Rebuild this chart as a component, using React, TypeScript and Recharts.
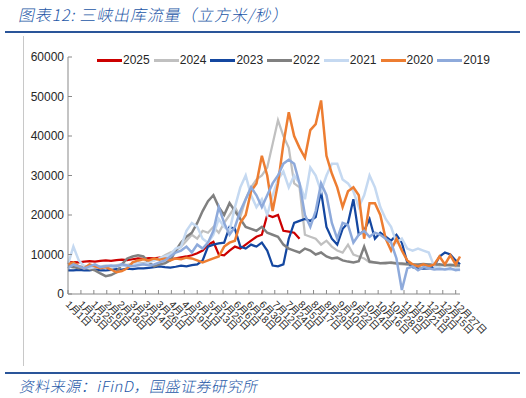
import { LineChart, Line, XAxis, YAxis } from "recharts";

const days = [
  1, 6, 11, 16, 21, 26, 31, 36, 41, 46, 51, 56, 61, 66, 71, 76, 81, 86, 91, 96,
  101, 106, 111, 116, 121, 126, 131, 136, 141, 146, 151, 156, 161, 166, 171, 176, 181, 186, 191, 196,
  201, 206, 211, 216, 221, 226, 231, 236, 241, 246, 251, 256, 261, 266, 271, 276, 281, 286, 291, 296,
  301, 306, 311, 316, 321, 326, 331, 336, 341, 346, 351, 356, 361, 365,
];

const tickDays = [
  1, 13, 25, 37, 49, 61, 73, 85, 97, 109, 121, 133, 145, 157, 169, 181, 193, 205, 217, 229,
  241, 253, 265, 277, 289, 301, 313, 325, 337, 349, 361,
];

const tickLabels = [
  "1月1日", "1月13日", "1月25日", "2月6日", "2月18日", "3月2日", "3月14日", "3月26日",
  "4月7日", "4月19日", "5月1日", "5月13日", "5月25日", "6月6日", "6月18日", "6月30日",
  "7月12日", "7月24日", "8月5日", "8月17日", "8月29日", "9月10日", "9月22日", "10月4日",
  "10月16日", "10月28日", "11月9日", "11月21日", "12月3日", "12月15日", "12月27日",
];

const yTicks = [0, 10000, 20000, 30000, 40000, 50000, 60000];

// 2025 only runs to early August
const s2025 = [
  8000, 8100, 8000, 8200, 8300, 8200, 8400, 8500, 8400, 8600, 8700, 8600, 8800, 9000, 8900, 9100,
  9000, 9200, 9000, 8800, 9000, 9300, 9500, 9800, 10300, 11000, 12500, 13200, 10000, 9800, 11000,
  12000, 11500, 12500, 13500, 14500, 15000, 20000, 19500, 20000, 16000, 15800, 15500, 14000,
];
const s2024 = [
  7500, 7200, 7000, 7100, 7000, 6800, 7000, 7200, 7000, 7300, 7500, 7400, 7600, 8000, 7800, 8200,
  8500, 9000, 9800, 10500, 11000, 12000, 13500, 15000, 14000, 16000, 15500, 17000, 15500, 18000,
  20000, 22000, 19500, 24000, 27000, 29000, 30000, 32000, 38000, 44000, 40000, 37000, 28000, 27000,
  15000, 14500, 14000, 12500, 13500, 12000, 11000, 10500, 12500, 10000, 9500, 9000, 8000, 8000,
  7800, 8000, 7800, 7600, 7500, 7400, 7500, 7400, 7300, 7500, 7400, 7200, 7300, 7200, 7000, 7000,
];
const s2023 = [
  6000, 6000, 6100, 6000, 6000, 6200, 6000, 6000, 6100, 6300, 6200, 6400, 6300, 6500, 6500, 6600,
  6800, 7000, 6800, 6700, 6900, 7200, 7000, 7300, 7500, 8500, 12000, 12500, 12800, 13000, 17000,
  16500, 12000, 11500, 12500, 12000, 13000, 11000, 7200, 7000, 7500, 14000, 18000, 18500, 19000,
  18500, 19500, 26000, 17000, 14000, 12500, 16500, 18000, 24000, 15000, 16000, 19000, 14000, 15500,
  14500, 13500, 15000, 13000, 8000, 6800, 6500, 6400, 6500, 7000, 9500, 10500, 10000, 8500, 7500,
];
const s2022 = [
  7000, 6800, 6500, 6800, 6300, 6000, 5200, 4500, 4800, 5500, 7500, 9000, 9500, 9800, 9500, 8000,
  7000, 7500, 7800, 8500, 11000, 13000, 14500, 15500, 18000, 21000, 23500, 25000, 22000, 20000,
  23000, 21000, 19000, 17000, 16500, 16000, 17000, 15500, 15000, 14500, 12500, 11500, 11000, 10500,
  11500, 11000, 10000, 10500, 9500, 9000, 9200, 8500, 8200, 8000, 8300, 12000, 8200, 8000, 7800,
  7800, 8000, 7800, 7700, 7600, 7500, 7500, 7600, 7500, 7400, 7500, 7300, 7400, 7300, 7200,
];
const s2021 = [
  7500, 12000, 8500, 7000, 6500, 6800, 7000, 6500, 6800, 7000, 7200, 7000, 7500, 7800, 7500, 8000,
  8500, 9000, 9500, 10000, 11500, 12000, 16000, 18000, 17000, 14000, 13000, 15000, 19000, 17000,
  16000, 22000, 27000, 30000, 25000, 22000, 24000, 20000, 25000, 29000, 31000, 27000, 30000, 28000,
  24000, 32000, 30000, 26000, 30000, 33000, 33000, 29000, 28000, 26000, 22000, 25000, 30000, 27000,
  22000, 19000, 17000, 13000, 14000, 11500, 11000, 11500, 11000, 10500, 7000, 6500, 6300, 6200, 6300, 6000,
];
const s2020 = [
  7500, 8000, 7000, 6500, 7500, 7000, 6500, 6800, 6200, 5500, 5800, 6500, 8000, 8500, 8800, 8500,
  9000, 8700, 9000, 8500, 9000, 8800, 9200, 9000, 8500, 8000, 8500, 9000, 9500, 12000, 13000, 13500,
  18000, 20000, 26000, 28000, 35000, 30000, 21000, 28000, 38000, 46000, 40000, 37000, 34500, 41500,
  43000, 49000, 35000, 30500, 27000, 22000, 26000, 27000, 25000, 14000, 23000, 23000, 20000, 14000,
  11000, 14000, 11000, 8500, 7500, 7000, 7500, 7000, 7500, 9500, 7500, 9800, 7500, 9500,
];
const s2019 = [
  6500, 7500, 7000, 6500, 7000, 7500, 6800, 7000, 7200, 7000, 7500, 7200, 7000, 7300, 7500, 7200,
  7500, 8000, 8500, 9500, 10500, 11000, 12000, 10500, 12500, 11500, 13000, 16000, 22000, 18000,
  15000, 17000, 21000, 24000, 27000, 25000, 22000, 25000, 28000, 30000, 33000, 34000, 33000, 28000,
  20000, 17000, 21000, 28000, 25000, 18000, 14000, 18000, 17500, 13000, 15000, 16000, 14500, 15500,
  15000, 14000, 13000, 9000, 1000, 6500, 7000, 6000, 6800, 6500, 6200, 6300, 6200, 6500, 6000, 6200,
];

const seriesList = [
  { key: "2025", values: s2025, color: "#cc0000", width: 2.25 },
  { key: "2024", values: s2024, color: "#c0c0c0", width: 2.25 },
  { key: "2023", values: s2023, color: "#1447a0", width: 2.25 },
  { key: "2022", values: s2022, color: "#808080", width: 2.5 },
  { key: "2021", values: s2021, color: "#c5d9f1", width: 2.5 },
  { key: "2020", values: s2020, color: "#ed7d31", width: 2.5 },
  { key: "2019", values: s2019, color: "#8eaadb", width: 2.5 },
];

const chartData = days.map((day, i) => {
  const row: Record<string, number | undefined> = { day };
  seriesList.forEach((s) => {
    row[s.key] = s.values[i];
  });
  return row;
});

const blue = "#2557a7";
const font = "'Liberation Sans', 'Noto Sans CJK SC', sans-serif";

const YTick = ({ x, y, payload }: any) => (
  <g>
    <line x1={x + 4} x2={x + 8} y1={y} y2={y} stroke="#898989" />
    <text x={x} y={y} dy={4} textAnchor="end" fontSize={12} fill="#262626">
      {payload.value}
    </text>
  </g>
);

const XTick = ({ x, y, payload }: any) => {
  const idx = tickDays.indexOf(payload.value);
  const tx = x - 3;
  const ty = y + 11;
  return (
    <g>
      <line x1={x} x2={x} y1={y - 4} y2={y} stroke="#898989" />
      <text x={tx} y={ty} transform={`rotate(45 ${tx} ${ty})`} textAnchor="start" fontSize={10} fill="#262626">
        {tickLabels[idx]}
      </text>
    </g>
  );
};

const slanted = {
  display: "inline-block",
  transform: "skewX(-12deg)",
  transformOrigin: "left bottom",
};

export default function App() {
  return (
    <div
      style={{
        position: "absolute",
        left: 0,
        top: 0,
        width: 526,
        height: 398,
        background: "#fff",
        overflow: "hidden",
        fontFamily: font,
      }}
    >
      <div
        style={{
          position: "absolute",
          left: 17,
          top: 2,
          fontSize: 16,
          letterSpacing: 0.8,
          color: blue,
          whiteSpace: "nowrap",
          fontFamily: "'Noto Sans CJK SC', sans-serif",
          fontWeight: 300,
        }}
      >
        <span style={slanted}>图表12:  三峡出库流量（立方米/秒）</span>
      </div>
      <div style={{ position: "absolute", left: 5, top: 31, width: 515, height: 2, background: "#2a5599" }} />
      <div style={{ position: "absolute", left: 23, top: 36, width: 1, height: 330, background: "#c8c8c8" }} />

      <div
        style={{
          position: "absolute",
          left: 97,
          top: 53,
          display: "flex",
          alignItems: "center",
          fontSize: 12,
          color: "#262626",
        }}
      >
        {seriesList.map((s) => (
          <div key={s.key} style={{ display: "flex", alignItems: "center", marginRight: 4 }}>
            <span style={{ display: "inline-block", width: 25, height: 3, background: s.color, marginRight: 1 }} />
            <span>{s.key}</span>
          </div>
        ))}
      </div>

      <div style={{ position: "absolute", left: 0, top: 0 }}>
        <LineChart width={526} height={398} data={chartData} margin={{ top: 57, right: 66, bottom: 54, left: 0 }}>
          <XAxis
            dataKey="day"
            type="number"
            domain={[1, 365]}
            ticks={tickDays}
            interval={0}
            tick={<XTick />}
            tickLine={false}
            tickSize={0}
            tickMargin={0}
            height={50}
            axisLine={{ stroke: "#898989" }}
          />
          <YAxis
            type="number"
            domain={[0, 60000]}
            ticks={yTicks}
            interval={0}
            tick={<YTick />}
            tickLine={false}
            tickSize={0}
            tickMargin={4}
            width={68}
            axisLine={{ stroke: "#898989" }}
          />
          {seriesList.map((s) => (
            <Line
              key={s.key}
              type="linear"
              dataKey={s.key}
              stroke={s.color}
              strokeWidth={s.width}
              dot={false}
              isAnimationActive={false}
            />
          ))}
        </LineChart>
      </div>

      <div style={{ position: "absolute", left: 5, top: 372, width: 515, height: 2, background: "#2a5599" }} />
      <div
        style={{
          position: "absolute",
          left: 18,
          top: 375,
          fontSize: 15,
          letterSpacing: 0.5,
          color: blue,
          whiteSpace: "nowrap",
          fontFamily: "'Noto Sans CJK SC', sans-serif",
          fontWeight: 300,
        }}
      >
        <span style={slanted}>资料来源：iFinD，国盛证券研究所</span>
      </div>
    </div>
  );
}
